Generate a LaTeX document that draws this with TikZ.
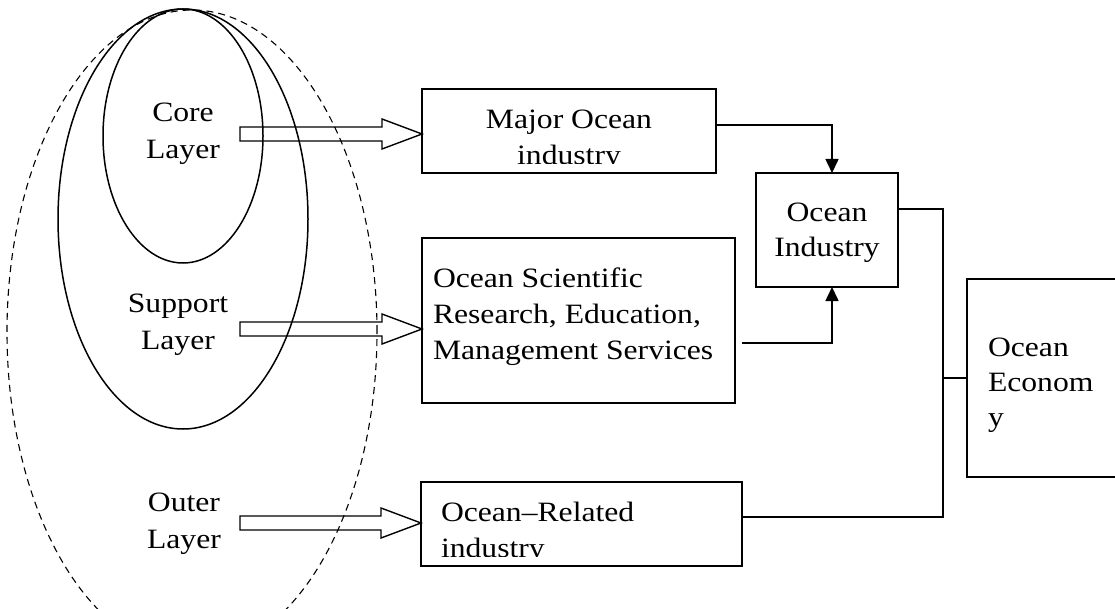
\documentclass[tikz,border=0pt]{standalone}
\usepackage{fontspec}
\setmainfont{Liberation Serif}[FakeStretch=1.13]
\usetikzlibrary{arrows.meta,calc}
\tikzset{
  box/.style={draw,line width=1.6pt,inner sep=0pt,outer sep=0pt},
  txt/.style={inner sep=0pt,outer sep=0pt,font=\fontsize{28}{36}\selectfont},
  wire/.style={line width=1.6pt},
  link/.style={line width=1.6pt,-{Triangle[width=13pt,length=14pt]}},
  hollow/.style={line width=1.4pt,to path={let \p1=(\tikztostart),\p2=(\tikztotarget) in
    (\x1,\y1+7pt) -- (\x2-40pt,\y1+7pt) -- (\x2-40pt,\y1+15pt) -- (\x2,\y1)
    -- (\x2-40pt,\y1-15pt) -- (\x2-40pt,\y1-7pt) -- (\x1,\y1-7pt) -- cycle}}
}
\begin{document}
\begin{tikzpicture}[x=1pt,y=-1pt]
  \useasboundingbox (0,0) rectangle (1115,609);
  % layers
  \draw[line width=1.5pt] (183,136) ellipse [x radius=80pt,y radius=127pt];
  \draw[line width=1.5pt] (183,219) ellipse [x radius=125pt,y radius=210pt];
  \draw[line width=1.1pt,dash pattern=on 7pt off 5pt] (192,332) ellipse [x radius=185pt,y radius=322pt];
  \node[txt,anchor=north,align=center,font=\fontsize{28}{37}\selectfont] (corelbl) at (183,103) {Core\\Layer};
  \node[txt,anchor=north,align=center,font=\fontsize{28}{37}\selectfont] (supplbl) at (178,294) {Support\\Layer};
  \node[txt,anchor=north,align=center,font=\fontsize{28}{37}\selectfont] (outlbl) at (184,493) {Outer\\Layer};
  \coordinate (coreout) at (240,134);
  \coordinate (suppout) at (240,329);
  \coordinate (outout) at (240,523);
  % boxes
  \node[box,minimum width=294pt,minimum height=84pt] (major) at (569,131) {};
  \node[box,minimum width=313pt,minimum height=165pt] (sci) at (578.5,320.5) {};
  \node[box,minimum width=321pt,minimum height=84pt] (rel) at (581.5,524) {};
  \node[box,minimum width=142pt,minimum height=114pt] (ind) at (827,230) {};
  \node[box,minimum width=153pt,minimum height=198pt] (econ) at (1043.5,378) {};
  \begin{scope}
    \clip (major.north west) rectangle ([yshift=9pt]major.south east);
    \node[txt,anchor=north,align=center] (majortxt) at (569,110) {Major Ocean\\industry};
  \end{scope}
  \node[txt,anchor=north west,align=left] (scitxt) at (433,268) {Ocean Scientific\\Research, Education,\\Management Services};
  \begin{scope}
    \clip (rel.north west) rectangle ([yshift=10pt]rel.south east);
    \node[txt,anchor=north west,align=left] (reltxt) at (441,502) {Ocean--Related\\industry};
  \end{scope}
  \node[txt,anchor=north,align=center,font=\fontsize{28}{35}\selectfont] (indtxt) at (827,203) {Ocean\\Industry};
  \node[txt,anchor=north west,align=left,font=\fontsize{28}{35}\selectfont] (econtxt) at (988,338) {Ocean\\Econom\\y};
  % arrows
  \draw[hollow] (coreout) to (major.west);
  \draw[hollow] (suppout) to (sci.west);
  \draw[hollow] (outout) to (rel.west);
  \draw[link] ([yshift=6pt]major.east) -| ([xshift=5pt]ind.north);
  \draw[link] ([xshift=7pt,yshift=-22.5pt]sci.east) -| ([xshift=5pt]ind.south);
  \coordinate (bus) at (943,517);
  \draw[wire] ([yshift=21pt]ind.east) -| (bus) -- (rel.east |- bus);
  \draw[wire] (econ.west) -- (econ.west -| bus);
\end{tikzpicture}
\end{document}
